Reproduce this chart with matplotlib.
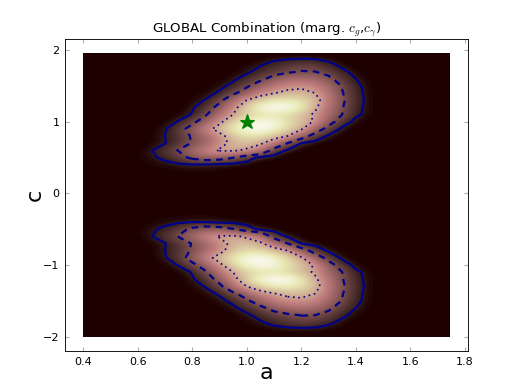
import numpy as np
import matplotlib
matplotlib.use('Agg')
import matplotlib.pyplot as plt
from matplotlib.colors import PowerNorm
from matplotlib.patches import Rectangle

plt.rcParams['mathtext.fontset'] = 'cm'

# likelihood, c>0 half (the map is mirrored in c)
# columns a = 0.60 ... 1.45 step 0.05
a_core = [0.60, 0.65, 0.70, 0.75, 0.80, 0.85, 0.90, 0.95, 1.00, 1.05, 1.10, 1.15, 1.20, 1.25, 1.30, 1.35, 1.40, 1.45]
c_core = [0.3, 0.4, 0.5, 0.6, 0.7, 0.8, 0.9, 1.0, 1.1, 1.2, 1.3, 1.4, 1.5, 1.6, 1.7, 1.8, 1.9]
row_03 = [0.000, 0.006, 0.008, 0.008, 0.010, 0.010, 0.008, 0.004, 0.001, 0, 0, 0, 0, 0, 0, 0, 0, 0]
row_04 = [0.002, 0.010, 0.015, 0.025, 0.035, 0.035, 0.020, 0.012, 0.006, 0.002, 0, 0, 0, 0, 0, 0, 0, 0]
row_05 = [0.008, 0.025, 0.060, 0.130, 0.240, 0.300, 0.280, 0.210, 0.090, 0.015, 0.003, 0, 0, 0, 0, 0, 0, 0]
row_06 = [0.004, 0.035, 0.100, 0.210, 0.340, 0.470, 0.570, 0.580, 0.520, 0.430, 0.120, 0.025, 0.004, 0, 0, 0, 0, 0]
row_07 = [0.000, 0.005, 0.035, 0.100, 0.210, 0.320, 0.480, 0.600, 0.640, 0.580, 0.420, 0.200, 0.040, 0.008, 0, 0, 0, 0]
row_08 = [0.000, 0.005, 0.040, 0.100, 0.220, 0.340, 0.480, 0.650, 0.740, 0.740, 0.640, 0.550, 0.300, 0.120, 0.025, 0.003, 0, 0]
row_09 = [0.000, 0.003, 0.030, 0.120, 0.280, 0.460, 0.640, 0.800, 0.940, 0.970, 0.880, 0.720, 0.580, 0.330, 0.130, 0.020, 0.003, 0]
row_10 = [0.000, 0.000, 0.005, 0.045, 0.150, 0.300, 0.500, 0.700, 0.860, 0.950, 0.920, 0.780, 0.640, 0.530, 0.290, 0.100, 0.010, 0.003]
row_11 = [0.000, 0.000, 0.000, 0.005, 0.045, 0.180, 0.380, 0.550, 0.680, 0.740, 0.760, 0.720, 0.640, 0.520, 0.340, 0.200, 0.060, 0.010]
row_12 = [0.000, 0.000, 0.000, 0.002, 0.030, 0.090, 0.270, 0.470, 0.700, 0.900, 1.000, 0.980, 0.820, 0.590, 0.400, 0.210, 0.070, 0.012]
row_13 = [0.000, 0.000, 0.000, 0.000, 0.010, 0.045, 0.150, 0.360, 0.550, 0.690, 0.780, 0.800, 0.740, 0.630, 0.420, 0.230, 0.080, 0.012]
row_14 = [0.000, 0.000, 0.000, 0.000, 0.002, 0.015, 0.050, 0.160, 0.300, 0.450, 0.540, 0.600, 0.620, 0.550, 0.400, 0.210, 0.070, 0.010]
row_15 = [0.000, 0.000, 0.000, 0.000, 0.000, 0.003, 0.020, 0.060, 0.170, 0.310, 0.420, 0.480, 0.500, 0.460, 0.340, 0.190, 0.060, 0.010]
row_16 = [0.000, 0.000, 0.000, 0.000, 0.000, 0.000, 0.005, 0.025, 0.070, 0.150, 0.270, 0.330, 0.360, 0.330, 0.240, 0.110, 0.040, 0.005]
row_17 = [0.000, 0.000, 0.000, 0.000, 0.000, 0.000, 0.000, 0.005, 0.025, 0.070, 0.120, 0.170, 0.205, 0.200, 0.140, 0.060, 0.010, 0.000]
row_18 = [0.000, 0.000, 0.000, 0.000, 0.000, 0.000, 0.000, 0.000, 0.010, 0.030, 0.070, 0.110, 0.140, 0.120, 0.060, 0.015, 0.000, 0.000]
row_19 = [0.000, 0.000, 0.000, 0.000, 0.000, 0.000, 0.000, 0.000, 0.000, 0.003, 0.006, 0.010, 0.012, 0.010, 0.006, 0.003, 0.000, 0.000]

contour_levels = [0.04, 0.2, 0.55]
contour_styles = ['solid', (0, (3, 2.4)), (0, (1, 2.2))]
contour_widths = [2, 2, 1.5]
best_a = [1.0]
best_c = [1.0]
x_ticks = [0.4, 0.6, 0.8, 1.0, 1.2, 1.4, 1.6, 1.8]
y_ticks = [-2, -1, 0, 1, 2]

core = np.array([row_03, row_04, row_05, row_06, row_07, row_08, row_09, row_10, row_11,
                 row_12, row_13, row_14, row_15, row_16, row_17, row_18, row_19])

# put the core in the full grid and mirror it
da = 0.05
dc = 0.1
a_vals = np.round(np.arange(0.40, 1.7501, da), 2)
c_vals = np.round(np.arange(-2.0, 2.0001, dc), 1)
like = np.zeros((len(c_vals), len(a_vals)))
ia = np.searchsorted(a_vals, a_core[0])
for i, c in enumerate(c_core):
    j = np.argmin(abs(c_vals - c))
    jm = np.argmin(abs(c_vals + c))
    like[j, ia:ia + len(a_core)] = core[i]
    like[jm, ia:ia + len(a_core)] = core[i]

fig = plt.figure(figsize=(6.5, 4.875), dpi=80)
fig.subplots_adjust(left=0.125, right=0.9, bottom=0.1, top=0.9)
ax = fig.add_subplot(111)

im = ax.imshow(like, origin='lower', cmap='pink', norm=PowerNorm(gamma=1.25, vmin=0, vmax=1), aspect='auto',
               interpolation='bicubic',
               extent=(a_vals[0] - da / 2, a_vals[-1] + da / 2, c_vals[0] - dc / 2, c_vals[-1] + dc / 2))
im.set_clip_path(Rectangle((0.40, -2.0), 1.345, 3.96, transform=ax.transData))

ax.contour(a_vals, c_vals, like, levels=contour_levels, colors='#00008b',
           linestyles=contour_styles, linewidths=contour_widths)
ax.plot(best_a, best_c, '*', color='g', markersize=14, markeredgecolor='g')

ax.set_xlim(0.334, 1.811)
ax.set_ylim(-2.2, 2.153)
ax.set_xticks(x_ticks)
ax.set_yticks(y_ticks)
ax.tick_params(direction='in', top=True, right=True, length=4, width=1, color='#b0b0b0', labelsize=10, pad=5)
ax.set_xlabel('a', fontsize=20, labelpad=-3)
ax.set_ylabel('c', fontsize=20, labelpad=-2)
ax.set_title(r'GLOBAL Combination (marg. $c_g$,$c_\gamma$)', fontsize=12)

fig.savefig('out.png', dpi=80)
